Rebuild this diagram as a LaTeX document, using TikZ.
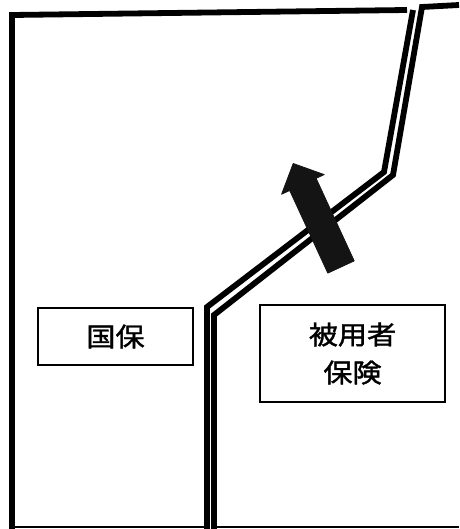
\documentclass[tikz,border=0pt]{standalone}
\usepackage{fontspec}
\newfontfamily\cjk[FakeStretch=1.12,FakeBold=1.5]{Noto Sans CJK JP}
\begin{document}
\begin{tikzpicture}[x=1pt,y=-1pt,
  frame/.style={line width=5.8pt, line join=miter},
  thinline/.style={line width=2pt},
  labelbox/.style={draw, line width=1.8pt, inner sep=0pt, align=center,
    font=\cjk\fontsize{26}{38}\selectfont},
  bigarrow/.style={fill=black!92, draw=black!92, line width=0.8pt, line join=round}]
\useasboundingbox (0,0) rectangle (459,529);
% left region frame
\coordinate (lt1) at (407,10);
\coordinate (ltl) at (12,15);
\coordinate (lbl) at (12,527);
\coordinate (lbr) at (207,527);
\coordinate (la) at (413,10);
\coordinate (lb) at (384,172);
\coordinate (lc) at (207,307);
\coordinate (ld) at (207,529);
\draw[frame] (lt1) -- (ltl) -- (12,529);
\draw[thinline] (lbl) -- (lbr);
\draw[frame] (la) -- (lb) -- (lc) -- (ld);
% right region frame
\coordinate (rr) at (459,5);
\coordinate (ra) at (422,7);
\coordinate (rb) at (393,175);
\coordinate (rc) at (214,315);
\coordinate (rd) at (214,529);
\coordinate (rbl) at (214,527);
\coordinate (rbr) at (459,527);
\draw[frame] (rr) -- (ra) -- (rb) -- (rc) -- (rd);
\draw[thinline] (rbl) -- (rbr);
% boxes
\node[labelbox, minimum width=155pt, minimum height=57pt] (kokuho) at (115.5,336.5) {国保};
\node[labelbox, minimum width=185pt, minimum height=97pt] (hiyo) at (352.5,353.5) {被用者\\保険};
% arrow
\draw[bigarrow] (327.8,273.1) -- (289.7,190.5) -- (281.6,194.2) -- (293.2,163.5)
  -- (324.2,174.6) -- (316.1,178.3) -- (354.2,260.9) -- cycle;
\end{tikzpicture}
\end{document}
